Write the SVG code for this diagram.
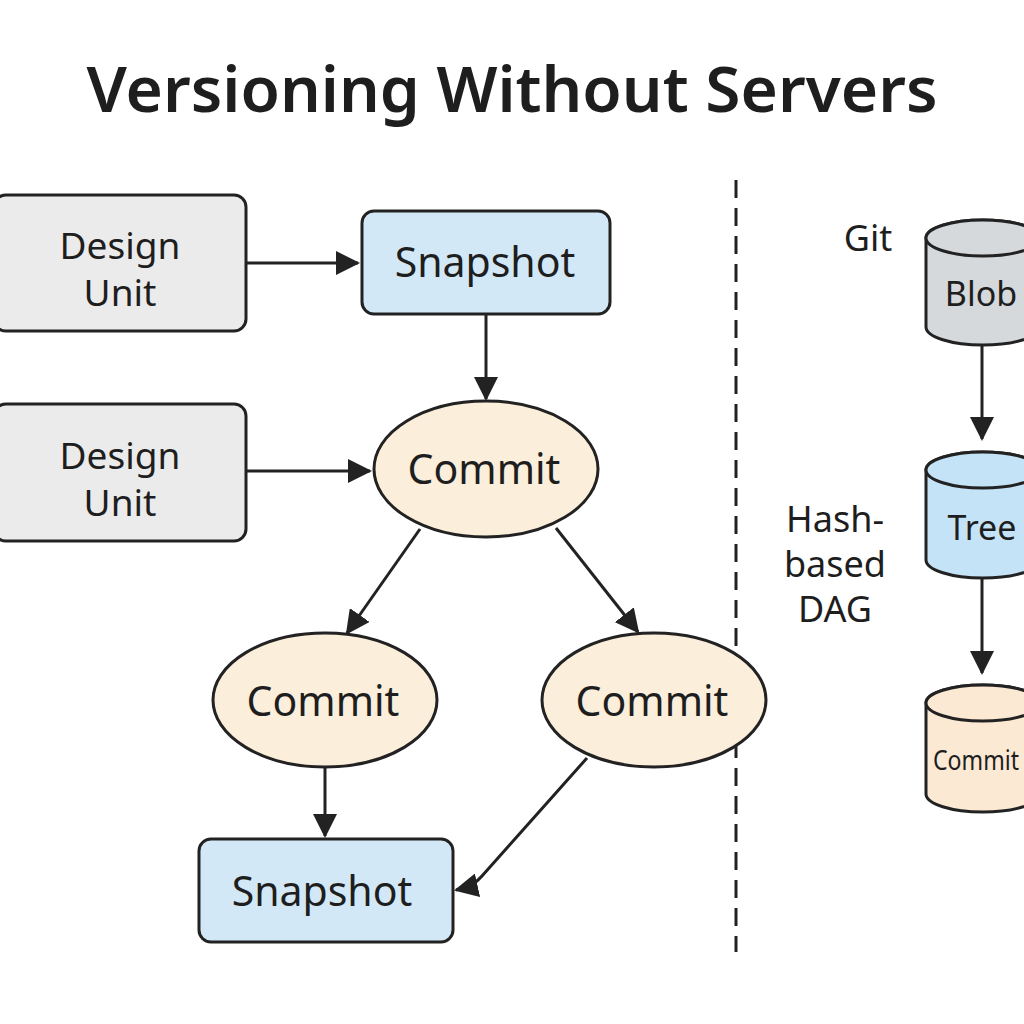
<svg xmlns="http://www.w3.org/2000/svg" width="1024" height="1024" viewBox="0 0 1024 1024">
<defs>
<marker id="arr" viewBox="0 0 24 24" refX="22" refY="12" markerWidth="24" markerHeight="24" markerUnits="userSpaceOnUse" orient="auto">
<path d="M0,0 L24,12 L0,24 Z" fill="#222"/>
</marker>
<style>
.t{font-family:"Noto Sans","Open Sans","DejaVu Sans",sans-serif;fill:#1e1e1e;text-anchor:middle}
.lbl{font-size:41px}
.du{font-size:37px}
.box{stroke:#222;stroke-width:3}
.line{stroke:#222;stroke-width:3;fill:none}
.grey{fill:#ebebeb}
.blue{fill:#d3e8f6}
.cream{fill:#fbeedb}
</style>
</defs>
<rect width="1024" height="1024" fill="#ffffff"/>
<text class="t" x="512" y="112" font-size="64" font-weight="600">Versioning Without Servers</text>

<g id="connectors">
<line class="line" x1="246" y1="263" x2="358" y2="263" marker-end="url(#arr)"/>
<line class="line" x1="486" y1="315" x2="486" y2="399" marker-end="url(#arr)"/>
<line class="line" x1="246" y1="471" x2="370" y2="471" marker-end="url(#arr)"/>
<line class="line" x1="420" y1="529" x2="347" y2="633" marker-end="url(#arr)"/>
<line class="line" x1="556" y1="528" x2="638" y2="632" marker-end="url(#arr)"/>
<line class="line" x1="325" y1="767" x2="325" y2="836" marker-end="url(#arr)"/>
<path class="line" d="M587,758 L482,876 Q474,886 456,890" marker-end="url(#arr)"/>
<line class="line" x1="982" y1="346" x2="982" y2="439" marker-end="url(#arr)"/>
<line class="line" x1="982" y1="579" x2="982" y2="673" marker-end="url(#arr)"/>
<line x1="736" y1="180" x2="736" y2="952" stroke="#222" stroke-width="3" stroke-dasharray="18,10"/>
</g>

<g id="design1">
<rect class="box grey" x="-6" y="195" width="252" height="136" rx="12"/>
<text class="t du" x="120" y="259">Design</text>
<text class="t du" x="120" y="306">Unit</text>
</g>
<g id="design2">
<rect class="box grey" x="-6" y="404" width="252" height="137" rx="12"/>
<text class="t du" x="120" y="469">Design</text>
<text class="t du" x="120" y="516">Unit</text>
</g>
<g id="snapshot1">
<rect class="box blue" x="362" y="211" width="248" height="103" rx="12"/>
<text class="t lbl" x="485" y="277">Snapshot</text>
</g>
<g id="commit1">
<ellipse class="box cream" cx="486" cy="469" rx="112" ry="68"/>
<text class="t lbl" x="484" y="484">Commit</text>
</g>
<g id="commit2">
<ellipse class="box cream" cx="325" cy="700" rx="112" ry="67"/>
<text class="t lbl" x="323" y="716">Commit</text>
</g>
<g id="commit3">
<ellipse class="box cream" cx="654" cy="700" rx="112" ry="67"/>
<text class="t lbl" x="652" y="716">Commit</text>
</g>
<g id="snapshot2">
<rect class="box blue" x="199" y="839" width="254" height="103" rx="12"/>
<text class="t lbl" x="322" y="906">Snapshot</text>
</g>

<text class="t" x="868" y="251" font-size="36">Git</text>
<text class="t" x="835" y="532" font-size="36">Hash-</text>
<text class="t" x="835" y="577" font-size="36">based</text>
<text class="t" x="835" y="622" font-size="36">DAG</text>

<g id="blob">
<path class="box" fill="#d6d9dc" d="M926,238 L926,327 A57,18 0 0 0 1040,327 L1040,238 A57,18 0 0 0 926,238 Z"/>
<ellipse class="box" fill="#d6d9dc" cx="983" cy="238" rx="57" ry="18"/>
<text class="t" x="981" y="306" font-size="34">Blob</text>
</g>
<g id="tree">
<path class="box" fill="#c4e3f7" d="M926,470 L926,560 A57,18 0 0 0 1040,560 L1040,470 A57,18 0 0 0 926,470 Z"/>
<ellipse class="box" fill="#c4e3f7" cx="983" cy="470" rx="57" ry="18"/>
<text class="t" x="982" y="540" font-size="34">Tree</text>
</g>
<g id="commitcyl">
<path class="box" fill="#fbe9d3" d="M926,703 L926,794 A57,18 0 0 0 1040,794 L1040,703 A57,18 0 0 0 926,703 Z"/>
<ellipse class="box" fill="#fbe9d3" cx="983" cy="703" rx="57" ry="18"/>
<text class="t" x="933" y="770" font-size="27" style="text-anchor:start" textLength="86" lengthAdjust="spacingAndGlyphs">Commit</text>
</g>
</svg>
